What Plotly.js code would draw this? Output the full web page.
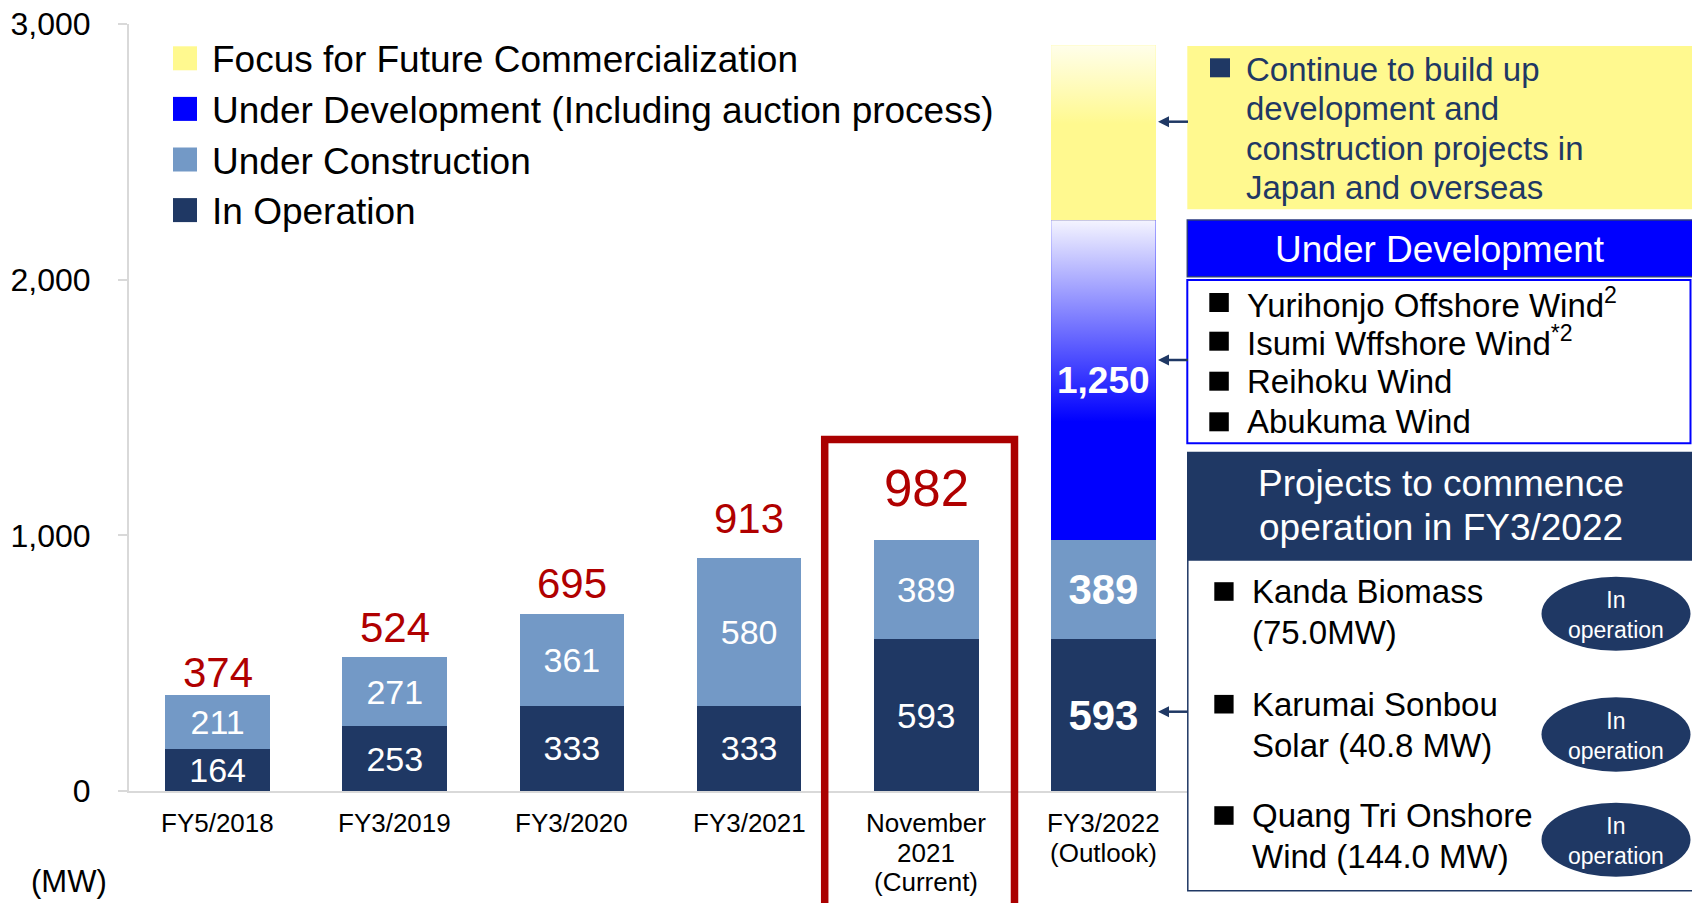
<!DOCTYPE html>
<html><head><meta charset="utf-8">
<script src="https://cdn.plot.ly/plotly-3.0.1.min.js"></script>
<style>html,body{margin:0;padding:0;background:#fff;overflow:hidden}#chart{width:1692px;height:903px}</style>
</head><body><div id="chart"></div>
<script>
// ---------- data ----------
const categories = ['FY5/2018','FY3/2019','FY3/2020','FY3/2021','November<br>2021<br>(Current)','FY3/2022<br>(Outlook)'];
const inOperation = [164,253,333,333,593,593];
const underConstruction = [211,271,361,580,389,389];
const underDevelopment = [0,0,0,0,0,1250];
const focusFuture = [0,0,0,0,0,685];
const totals = [374,524,695,913,982];
const seriesNames = ['In Operation','Under Construction','Under Development (Including auction process)','Focus for Future Commercialization'];
const yTicks = [0,1000,2000,3000];
const yTickText = ['0','1,000','2,000','3,000'];
const focusNoteLines = ['Continue to build up','development and','construction projects in','Japan and overseas'];
const devHeader = 'Under Development';
const devProjects = ['Yurihonjo Offshore Wind<sup>2</sup>','Isumi Wffshore Wind<sup>*2</sup>','Reihoku Wind','Abukuma Wind'];
const opHeaderLines = ['Projects to commence','operation in FY3/2022'];
const opProjects = [['Kanda Biomass','(75.0MW)'],['Karumai Sonbou','Solar (40.8 MW)'],['Quang Tri Onshore','Wind (144.0 MW)']];
const opStatus = 'In<br>operation';
const unitLabel = '(MW)';

// ---------- styles ----------
const FONT = 'Liberation Sans, Arial, sans-serif';
const C_NAVY = '#1F3864', C_LIGHT = '#7399C6', C_BLUE = '#0000FF', C_YEL = '#FFF98F', C_RED = '#B00000';
const colors = [C_NAVY, C_LIGHT, C_BLUE, C_YEL];
const M = {l:129, r:500, t:24, b:112};
const W = 1692 - M.l - M.r, H = 903 - M.t - M.b;
const PX = px => (px - M.l) / W;
const PY = py => (903 - M.b - py) / H;
const BARGAP = 0.41;
const xs = categories.map((c, i) => i);
const last = categories.length - 1;

// ---------- traces ----------
const labelSizes = xs.map(i => i === last ? 42 : (i === 4 ? 35 : 34));
const mkText = arr => arr.map((v, i) => i === last ? '<b>' + v + '</b>' : String(v));
const seriesVals = [inOperation, underConstruction, underDevelopment, focusFuture];
const traces = seriesVals.map((vals, k) => {
  const t = {
    type: 'bar', name: seriesNames[k], x: xs, y: vals,
    marker: {color: colors[k], line: {width: 0}},
    hoverinfo: 'skip', showlegend: false
  };
  if (k < 2) {
    Object.assign(t, {text: mkText(vals), textposition: 'inside', insidetextanchor: 'middle',
      textangle: 0, constraintext: 'none',
      textfont: {family: FONT, color: '#FFFFFF', size: labelSizes}});
  } else {
    t.textposition = 'none';
  }
  return t;
});

// gradient overlays for the outlook bar's upper segments
const hw = (1 - BARGAP) / 2;
const baseDev = inOperation[last] + underConstruction[last];
const topDev = baseDev + underDevelopment[last];
const topFocus = topDev + focusFuture[last];
function gradPoly(base, top, cs, fc) {
  return {type: 'scatter', mode: 'none', fill: 'toself', fillcolor: fc,
    x: [last - hw, last + hw, last + hw, last - hw, last - hw],
    y: [base, base, top, top, base],
    fillgradient: {type: 'vertical', colorscale: cs, start: base, stop: top},
    hoverinfo: 'skip', showlegend: false};
}
traces.push(gradPoly(baseDev, topDev, [[0, '#0000FF'], [0.37, '#0000FF'], [1, '#F4F4FF']], C_BLUE));
traces.push(gradPoly(topDev, topFocus, [[0, C_YEL], [0.55, C_YEL], [1, '#FFFEEA']], C_YEL));

// ---------- decorations ----------
const shapes = [];
const annotations = [];
function rect(x0, y0, x1, y1, fill, lc, lw) {
  shapes.push({type: 'rect', xref: 'paper', yref: 'paper', x0: PX(x0), x1: PX(x1), y0: PY(y1), y1: PY(y0),
    fillcolor: fill, line: {color: lc || 'rgba(0,0,0,0)', width: lw || 0}, layer: 'above'});
}
function ell(x0, y0, x1, y1, fill) {
  shapes.push({type: 'circle', xref: 'paper', yref: 'paper', x0: PX(x0), x1: PX(x1), y0: PY(y1), y1: PY(y0),
    fillcolor: fill, line: {width: 0}, layer: 'above'});
}
function txt(text, px, py, size, color, xanchor, extra) {
  annotations.push(Object.assign({text: text, xref: 'paper', yref: 'paper', x: PX(px), y: PY(py),
    xanchor: xanchor || 'left', yanchor: 'middle', showarrow: false,
    font: {family: FONT, size: size, color: color}, borderpad: 0}, extra || {}));
}
function arrow(tipx, py) {
  const tail = 1188, hl = 11, hh = 5.5;
  shapes.push({type: 'line', xref: 'paper', yref: 'paper', x0: PX(tipx + hl - 1), x1: PX(tail), y0: PY(py), y1: PY(py),
    line: {color: C_NAVY, width: 2.5}, layer: 'above'});
  shapes.push({type: 'path', xref: 'paper', yref: 'paper',
    path: 'M' + PX(tipx) + ',' + PY(py) + ' L' + PX(tipx + hl) + ',' + PY(py - hh) + ' L' + PX(tipx + hl) + ',' + PY(py + hh) + ' Z',
    fillcolor: C_NAVY, line: {width: 0}, layer: 'above'});
}

// legend (top-left, reversed stack order)
[3, 2, 1, 0].forEach((k, r) => {
  const cy = 58.3 + r * 50.6;
  rect(173, cy - 12, 197, cy + 12, colors[k]);
  txt(seriesNames[k], 211, cy + 1.5, 37, '#000000', 'left');
});

// unit label
txt(unitLabel, 69, 882, 31, '#000000', 'center');

// category labels under the axis (one annotation per line for tight spacing)
categories.forEach((c, i) => {
  c.split('<br>').forEach((line, j) => {
    annotations.push({text: line, x: i, xref: 'x', yref: 'paper', y: PY(823 + j * 29.5),
      xanchor: 'center', yanchor: 'middle', showarrow: false, borderpad: 0,
      font: {family: FONT, size: 26, color: '#000000'}});
  });
});

// totals above the bars
const totalShift = [23, 30, 30, 39, 51];
totals.forEach((v, i) => {
  annotations.push({text: String(v), x: i, y: v, xref: 'x', yref: 'y', yshift: totalShift[i],
    xanchor: 'center', yanchor: 'middle', showarrow: false,
    font: {family: FONT, size: i === 4 ? 51 : 42, color: C_RED}});
});
// value inside the under-development segment
annotations.push({text: '<b>' + underDevelopment[last].toLocaleString('en-US') + '</b>', x: last,
  y: baseDev + underDevelopment[last] / 2, xref: 'x', yref: 'y', xanchor: 'center', yanchor: 'middle',
  showarrow: false, font: {family: FONT, size: 37, color: '#FFFFFF'}});

// highlight box around the current bar
shapes.push({type: 'rect', xref: 'paper', yref: 'paper', x0: PX(824.7), x1: PX(1014.5), y0: PY(930), y1: PY(439.5),
  line: {color: '#AA0000', width: 7.5}, fillcolor: 'rgba(0,0,0,0)', layer: 'above'});

// yellow note panel
rect(1187.3, 46, 1700, 209.3, C_YEL);
rect(1210, 58.3, 1230, 77.3, C_NAVY);
focusNoteLines.forEach((s, i) => txt(s, 1245, 80.7 + i * 39.5 - 11.4, 33, C_NAVY, 'left'));

// under development panel
rect(1187.3, 220, 1700, 276.7, C_BLUE, '#2A3A80', 1.5);
txt(devHeader, 1440, 249, 37, '#FFFFFF', 'center');
rect(1187.3, 280, 1690.5, 443.3, '#FFFFFF', C_BLUE, 2);
devProjects.forEach((s, i) => {
  const base = [314, 352.7, 392.7, 433.3][i];
  rect(1209.3, base - 11.5 - 9.5, 1228.8, base - 11.5 + 9.5, '#000000');
  txt(s, 1245.5, base - 11.4, 33, '#000000', 'left');
});

// projects to commence operation panel
rect(1187.8, 560, 1700, 890.7, '#FFFFFF', C_NAVY, 1.5);
rect(1187, 451.7, 1700, 560, C_NAVY);
opHeaderLines.forEach((s, i) => txt(s, 1440.5, [496.7, 540][i] - 12.8, 37, '#FFFFFF', 'center'));
const opBase = [603.3, 716, 827.3];
const ellY = [[576.7, 650.7], [697.3, 771.7], [802.7, 876.7]];
opProjects.forEach((lines, i) => {
  const b = opBase[i];
  rect(1214.3, b - 11.8 - 9.3, 1233.6, b - 11.8 + 9.3, '#000000');
  lines.forEach((s, j) => txt(s, 1251, b + j * 40.5 - 11.4, 33, '#000000', 'left'));
  ell(1541.5, ellY[i][0], 1690.5, ellY[i][1], C_NAVY);
  txt(opStatus, 1616, (ellY[i][0] + ellY[i][1]) / 2 + 1, 23, '#FFFFFF', 'center');
});

// connector arrows
arrow(1158, 121.7);
arrow(1158, 360);
arrow(1158, 711.7);

// ---------- layout ----------
const layout = {
  width: 1692, height: 903,
  margin: M,
  paper_bgcolor: '#FFFFFF', plot_bgcolor: '#FFFFFF',
  barmode: 'stack', bargap: BARGAP,
  showlegend: false,
  font: {family: FONT, color: '#000000'},
  xaxis: {range: [-0.5, last + 0.5], tickvals: xs, ticktext: categories, showticklabels: false,
    showgrid: false, zeroline: false, showline: true, linecolor: '#D9D9D9', linewidth: 2, ticks: '',
    fixedrange: true},
  yaxis: {range: [0, 3000], tickvals: yTicks, ticktext: yTickText, showgrid: false, zeroline: false,
    showline: true, linecolor: '#D9D9D9', linewidth: 2, ticks: 'outside', ticklen: 9, tickwidth: 2,
    tickcolor: '#D9D9D9', ticklabelstandoff: 21, tickfont: {family: FONT, size: 32, color: '#000000'}, fixedrange: true},
  shapes: shapes,
  annotations: annotations
};
Plotly.newPlot('chart', traces, layout, {displayModeBar: false, staticPlot: true});
</script>
</body></html>
